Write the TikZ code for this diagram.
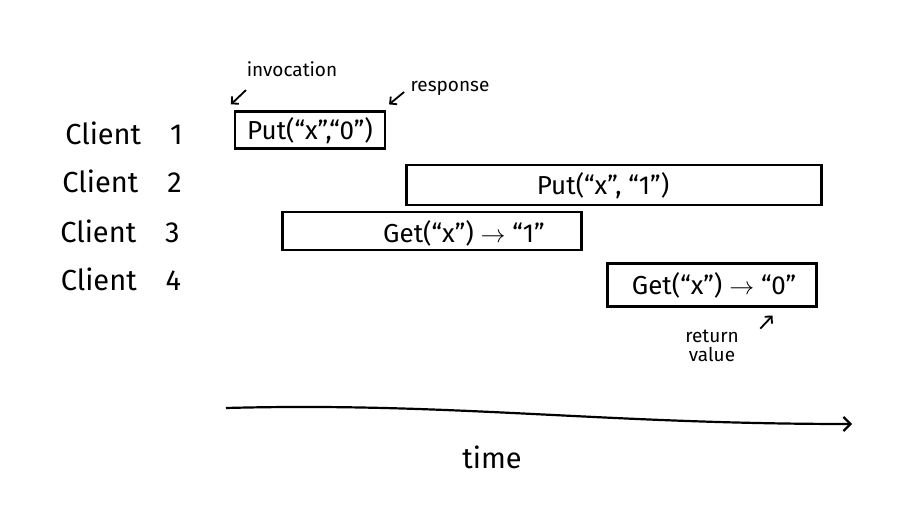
\documentclass[tikz,border=0pt]{standalone}
\usepackage{fontspec}
\setmainfont{Fira Sans}
\usetikzlibrary{arrows.meta}

\tikzset{
  callbox/.style={draw, line width=2.2pt, inner sep=0pt},
  calltext/.style={font=\fontsize{26}{30}\selectfont},
  clientname/.style={font=\fontsize{29}{32}\selectfont},
  note/.style={font=\fontsize{19}{19}\selectfont, align=center},
  pointer/.style={-{Straight Barb[length=5pt,width=10pt]}, line width=1.8pt},
}

\begin{document}
\begin{tikzpicture}[x=1pt,y=-1pt]
  \useasboundingbox (0,0) rectangle (901,519);

  % clients
  \node[clientname] (cl1) at (124,133) {Client\quad 1};
  \node[clientname] (cl2) at (122,181) {Client\quad 2};
  \node[clientname] (cl3) at (120,231) {Client\quad 3};
  \node[clientname] (cl4) at (121,279) {Client\quad 4};

  % operations
  \node[callbox, minimum width=150, minimum height=37] (op1) at (310,130) {};
  \node[callbox, minimum width=415, minimum height=40] (op2) at (614,185) {};
  \node[callbox, minimum width=299, minimum height=38] (op3) at (432,231) {};
  \node[callbox, minimum width=209, minimum height=43] (op4) at (712,285) {};

  \node[calltext] (put1) at (310,131) {Put(“x”,“0”)};
  \node[calltext] (put2) at (603,186) {Put(“x”, “1”)};
  \node[calltext] (get1) at (464,233) {Get(“x”) $\rightarrow$ “1”};
  \node[calltext] (get2) at (714,285) {Get(“x”) $\rightarrow$ “0”};

  % notes
  \node[note] (inv) at (292,69) {invocation};
  \node[note] (resp) at (450,88) {response};
  \node[note] (ret) at (712,346) {return\\value};

  \draw[pointer] ([xshift=-46pt,yshift=-10pt]inv.south) -- ([xshift=-3pt,yshift=6pt]op1.north west);
  \draw[pointer] ([xshift=-3pt,yshift=-4pt]resp.west) -- ([xshift=3pt,yshift=6pt]op1.north east);
  \draw[pointer] ([xshift=18pt,yshift=-2pt]ret.north east) -- ([xshift=-45pt,yshift=-8pt]op4.south east);

  % time axis
  \coordinate (t0) at (226,408);
  \coordinate (t1) at (852,424);
  \draw[-{Straight Barb[length=7pt,width=14pt]}, line width=2.2pt]
    (t0) .. controls (450,402) and (600,424) .. (t1);
  \node[clientname] (time) at (492,457) {time};
\end{tikzpicture}
\end{document}
